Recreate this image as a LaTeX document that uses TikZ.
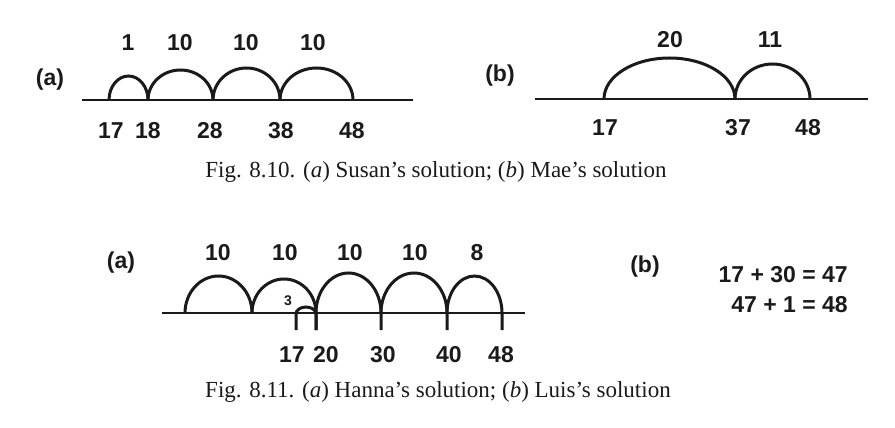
\documentclass[tikz,border=0pt]{standalone}
\usepackage{fontspec}
\newfontfamily\labfont{Liberation Sans}
\newfontfamily\capfontx{Liberation Serif}
\definecolor{ink}{HTML}{1A1A1A}
\begin{document}
\begin{tikzpicture}[x=1pt,y=-1pt,
  lbl/.style={inner sep=0pt,text=ink,font=\labfont\bfseries\fontsize{23}{26}\selectfont},
  smalllbl/.style={inner sep=0pt,text=ink,font=\labfont\bfseries\fontsize{14}{17}\selectfont},
  caption/.style={inner sep=0pt,text=ink,font=\capfontx\fontsize{23}{27}\selectfont},
  numline/.style={draw=ink,line width=1.8pt},
  hop/.style={draw=ink,line width=3pt},
]
\useasboundingbox (0,0) rectangle (895,428);
\fill[white] (0,0) rectangle (895,428);

% ---------- Fig 8.10 (a) ----------
\node[lbl] (ta) at (50,80) {(a)};
\coordinate (aL) at (82,100);
\coordinate (aR) at (413,100);
\coordinate (a17) at (109,100);
\coordinate (a18) at (148,100);
\coordinate (a28) at (213,100);
\coordinate (a38) at (280,100);
\coordinate (a48) at (353,100);
\draw[numline] (aL) -- (aR);
\draw[hop] (a17) arc[start angle=180,end angle=360,x radius=19.5,y radius=24];
\draw[hop] (a18) arc[start angle=180,end angle=360,x radius=32.5,y radius=30];
\draw[hop] (a28) arc[start angle=180,end angle=360,x radius=33.5,y radius=32];
\draw[hop] (a38) arc[start angle=180,end angle=360,x radius=36.5,y radius=32];
\node[lbl] (ha1) at (128,43) {1};
\node[lbl] (ha2) at (180,43) {10};
\node[lbl] (ha3) at (246,43) {10};
\node[lbl] (ha4) at (313,43) {10};
\node[lbl] (na17) at (111,131) {17};
\node[lbl] (na18) at (148,131) {18};
\node[lbl] (na28) at (210,131) {28};
\node[lbl] (na38) at (281,131) {38};
\node[lbl] (na48) at (352,131) {48};

% ---------- Fig 8.10 (b) ----------
\node[lbl] (tb) at (500,76) {(b)};
\coordinate (bL) at (535,99);
\coordinate (bR) at (868,99);
\coordinate (b17) at (604,99);
\coordinate (b37) at (735,99);
\coordinate (b48) at (810,99);
\draw[numline] (bL) -- (bR);
\draw[hop] (b17) arc[start angle=180,end angle=360,x radius=65.5,y radius=41];
\draw[hop] (b37) arc[start angle=180,end angle=360,x radius=37.5,y radius=35];
\node[lbl] (hb1) at (670,40) {20};
\node[lbl] (hb2) at (770,40) {11};
\node[lbl] (nb17) at (605,128) {17};
\node[lbl] (nb37) at (738,128) {37};
\node[lbl] (nb48) at (808,128) {48};

\node[caption] (cap1) at (436,172) {Fig. 8.10. (\textit{a}) Susan’s solution; (\textit{b}) Mae’s solution};

% ---------- Fig 8.11 (a) ----------
\node[lbl] (tc) at (121,263) {(a)};
\coordinate (cL) at (162,313);
\coordinate (cR) at (525,313);
\coordinate (c0) at (185,313);
\coordinate (c1) at (252,313);
\coordinate (c20) at (316,313);
\coordinate (c30) at (381,313);
\coordinate (c40) at (447,313);
\coordinate (c48) at (502,313);
\coordinate (c17b) at (296,330);
\coordinate (c20b) at (316,330);
\coordinate (c30b) at (381,330);
\coordinate (c40b) at (447,330);
\coordinate (c48b) at (502,330);
\draw[numline] (cL) -- (cR);
\draw[hop] (c0) arc[start angle=180,end angle=360,x radius=33.5,y radius=37];
\draw[hop] (c1) arc[start angle=180,end angle=360,x radius=32,y radius=34];
\draw[hop] (c20b) -- (c20) arc[start angle=180,end angle=360,x radius=32.5,y radius=40] -- (c30b);
\draw[hop] (c30) arc[start angle=180,end angle=360,x radius=33,y radius=40] -- (c40b);
\draw[hop] (c40) arc[start angle=180,end angle=360,x radius=27.5,y radius=37] -- (c48b);
\draw[hop] (c17b) -- ++(0,-16) arc[start angle=180,end angle=360,x radius=10,y radius=7] -- (c20b);
\node[lbl] (hc1) at (218,253) {10};
\node[lbl] (hc2) at (285,253) {10};
\node[lbl] (hc3) at (350,253) {10};
\node[lbl] (hc4) at (415,253) {10};
\node[lbl] (hc5) at (477,253) {8};
\node[smalllbl] (hc6) at (288,301) {3};
\node[lbl] (nc17) at (292,355) {17};
\node[lbl] (nc20) at (326,355) {20};
\node[lbl] (nc30) at (383,355) {30};
\node[lbl] (nc40) at (449,355) {40};
\node[lbl] (nc48) at (501,355) {48};

% ---------- Fig 8.11 (b) ----------
\node[lbl] (td) at (645,267) {(b)};
\node[lbl,anchor=east] (eq1) at (848,275) {17 + 30 = 47};
\node[lbl,anchor=east] (eq2) at (848,305) {47 + 1 = 48};

\node[caption] (cap2) at (438,392) {Fig. 8.11. (\textit{a}) Hanna’s solution; (\textit{b}) Luis’s solution};
\end{tikzpicture}
\end{document}
